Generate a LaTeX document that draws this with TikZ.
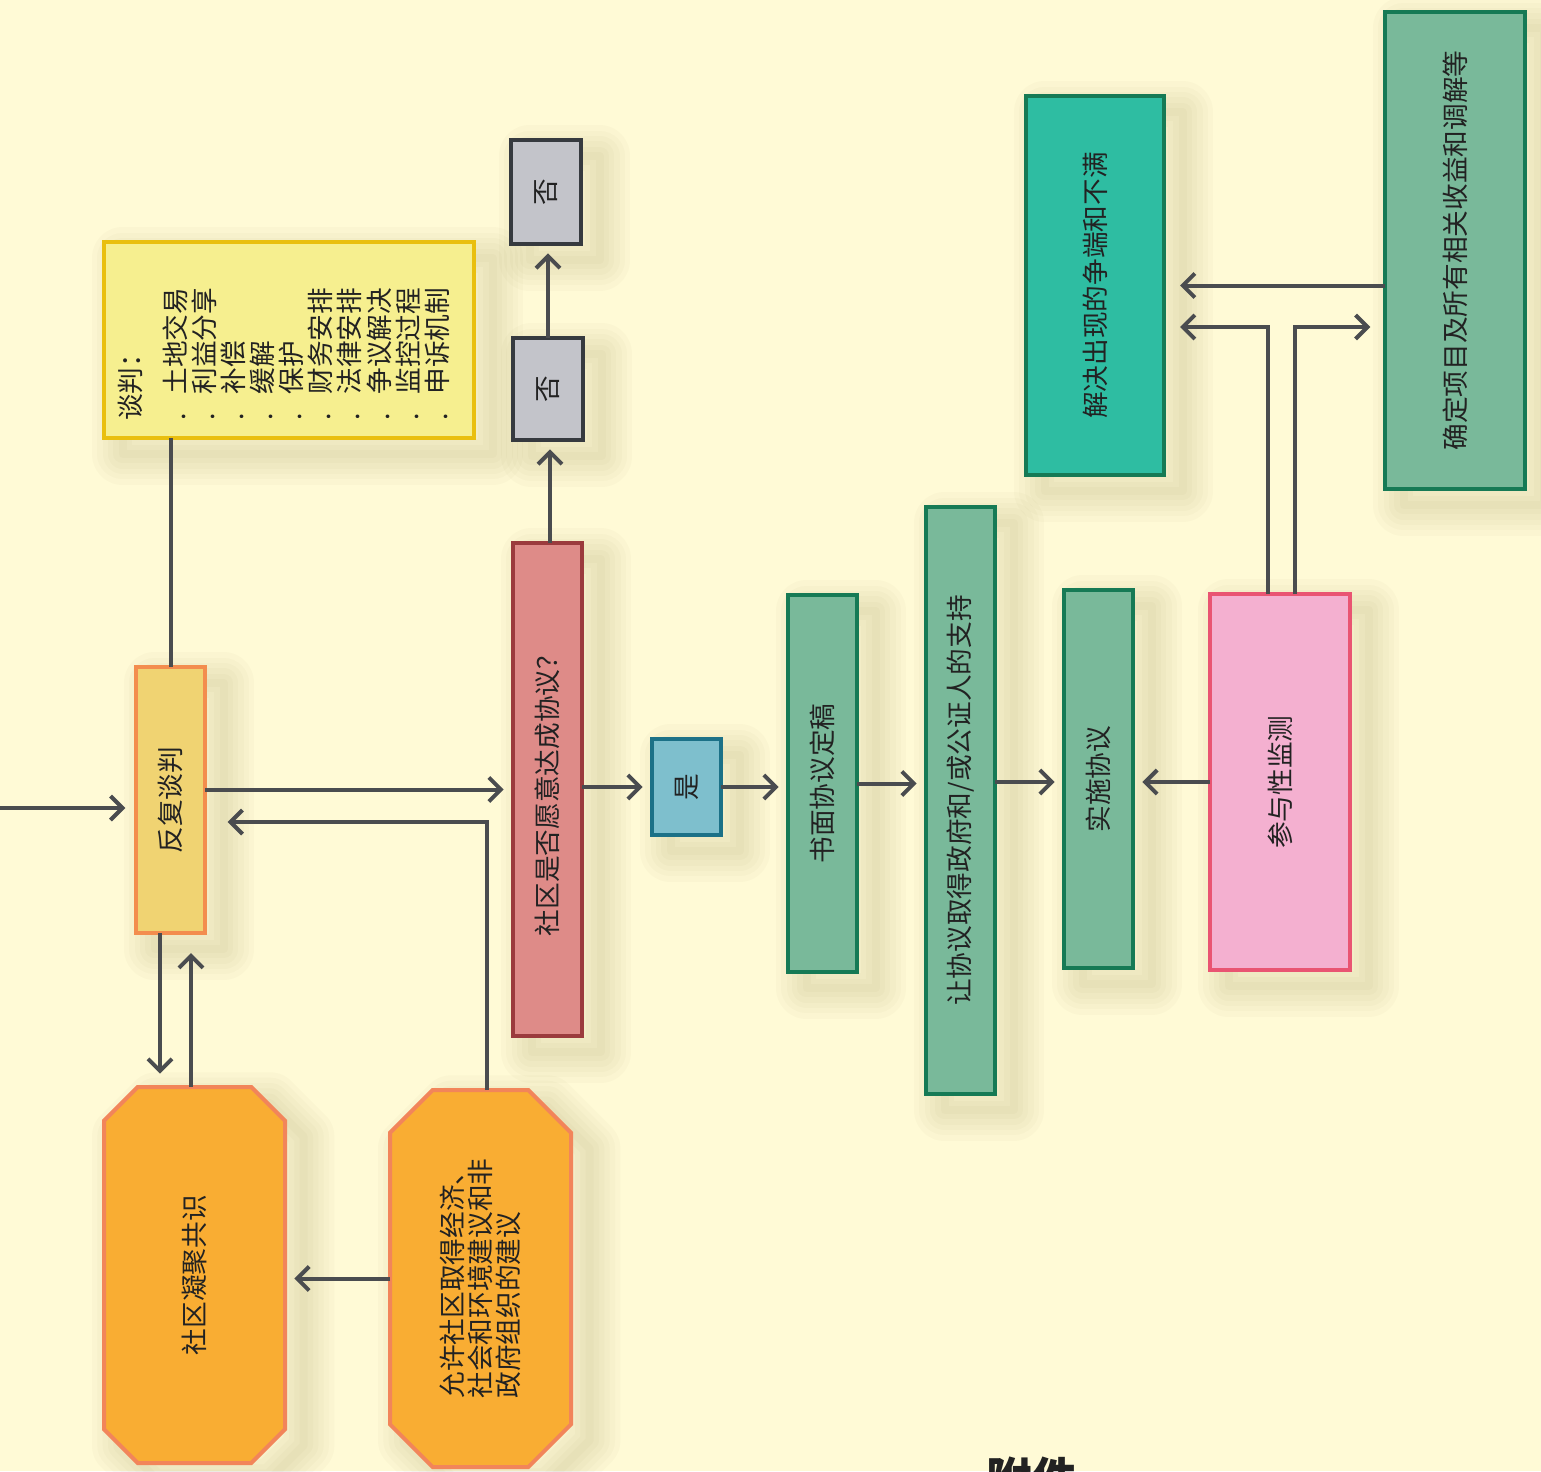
\documentclass[tikz,border=0pt]{standalone}
\usepackage{fontspec}
\setmainfont{Noto Sans CJK SC}
\usepackage{graphicx}
\usetikzlibrary{arrows.meta}
\usetikzlibrary{calc}
\usetikzlibrary{shapes.misc}

\definecolor{bgcream}{RGB}{255,250,214}
\definecolor{inkdark}{RGB}{34,34,34}
\definecolor{arrowgray}{RGB}{74,76,79}
\definecolor{shadowtan}{RGB}{110,100,40}
\definecolor{notefill}{RGB}{246,239,143}
\definecolor{noteline}{RGB}{233,191,15}
\definecolor{talkfill}{RGB}{240,211,114}
\definecolor{talkline}{RGB}{243,141,78}
\definecolor{askfill}{RGB}{222,139,136}
\definecolor{askline}{RGB}{155,59,61}
\definecolor{nofill}{RGB}{195,196,202}
\definecolor{noline}{RGB}{54,58,63}
\definecolor{yesfill}{RGB}{126,191,205}
\definecolor{yesline}{RGB}{28,113,135}
\definecolor{sagefill}{RGB}{121,185,154}
\definecolor{greenline}{RGB}{22,122,85}
\definecolor{tealfill}{RGB}{46,189,162}
\definecolor{pinkfill}{RGB}{244,176,208}
\definecolor{pinkline}{RGB}{233,84,114}
\definecolor{orangefill}{RGB}{249,173,51}
\definecolor{orangeline}{RGB}{242,133,90}

\newcommand{\vtext}[1]{\rotatebox{90}{#1}}
\newcommand{\vlines}[2]{\rotatebox{90}{\vbox{\baselineskip=#1\lineskiplimit=-\maxdimen #2}}}

\tikzset{every picture/.style={line width=0.75pt}}
\tikzset{
  haze/.style={preaction={draw=shadowtan, draw opacity=0.028, line join=round,
    line width=#1, transform canvas={shift={(14pt,-12pt)}}}},
  box/.style={draw, line width=3pt, inner sep=0pt, outer sep=0pt, text=inkdark,
    font=\fontsize{20}{22}\selectfont,
    haze=46pt, haze=38pt, haze=30pt, haze=22pt, haze=14pt, haze=6pt},
  sz/.style 2 args={minimum width=#1*0.75pt, minimum height=#2*0.75pt},
  notebox/.style={box, fill=notefill, draw=noteline},
  talkbox/.style={box, fill=talkfill, draw=talkline},
  askbox/.style={box, fill=askfill, draw=askline},
  nobox/.style={box, fill=nofill, draw=noline},
  yesbox/.style={box, fill=yesfill, draw=yesline},
  sagebox/.style={box, fill=sagefill, draw=greenline},
  tealbox/.style={box, fill=tealfill, draw=greenline},
  pinkbox/.style={box, fill=pinkfill, draw=pinkline},
  octbox/.style={box, chamfered rectangle, chamfered rectangle xsep=16pt,
    chamfered rectangle ysep=16pt, fill=orangefill, draw=orangeline},
  arr/.style={draw=arrowgray, line width=3pt, line join=miter,
    -{Straight Barb[length=9pt,width=18pt]}, shorten >=7pt},
  link/.style={draw=arrowgray, line width=3pt},
}

\begin{document}
\begin{tikzpicture}[x=0.75pt,y=0.75pt,yscale=-1,xscale=1]
      \useasboundingbox (0,0) rectangle (1541,1471);
      \fill [bgcream] (0,0) rectangle (1541,1471);

      \node (note) [notebox, sz={370}{196}] at (289,340) {\vlines{21.8pt}{
            \hbox to 121pt{谈判：\hfil}\vskip 12pt
            \hbox{.\hspace{0.7em}土地交易}\hbox{.\hspace{0.7em}利益分享}\hbox{.\hspace{0.7em}补偿}
            \hbox{.\hspace{0.7em}缓解}\hbox{.\hspace{0.7em}保护}\hbox{.\hspace{0.7em}财务安排}
            \hbox{.\hspace{0.7em}法律安排}\hbox{.\hspace{0.7em}争议解决}\hbox{.\hspace{0.7em}监控过程}
            \hbox{.\hspace{0.7em}申诉机制}\vskip 8pt}};
      \node (fanfu) [talkbox, sz={69}{266}] at (170.5,800) {\vtext{反复谈判}};
      \node (shequ) [askbox, sz={69}{493}] at (547.5,789.5) {\vtext{社区是否愿意达成协议？}};
      \node (fou1) [nobox, sz={70}{102}] at (548,389) {\vtext{否}};
      \node (fou2) [nobox, sz={70}{104}] at (546,192) {\vtext{否}};
      \node (shi) [yesbox, sz={69}{96}] at (686.5,787) {\vtext{是}};
      \node (shumian) [sagebox, sz={69}{377}] at (822.5,783.5) {\vtext{书面协议定稿}};
      \node (rang) [sagebox, sz={69}{587}] at (960.5,800.5) {\vtext{让协议取得政府和/或公证人的支持}};
      \node (shishi) [sagebox, sz={69}{378}] at (1098.5,779) {\vtext{实施协议}};
      \node (jiance) [pinkbox, sz={140}{376}] at (1280,782) {\vtext{参与性监测}};
      \node (jiejue) [tealbox, sz={138}{379}] at (1095,285.5) {\vtext{解决出现的争端和不满}};
      \node (queding) [sagebox, sz={140}{477}] at (1455,250.5) {\vtext{确定项目及所有相关收益和调解等}};
      \node (ningju) [octbox, sz={181}{376}] at (194.5,1275) {\vtext{社区凝聚共识}};
      \node (yunxu) [octbox, sz={181}{377}] at (480.5,1278.5) {\vlines{21pt}{
            \hbox{允许社区取得经济、}\hbox{社会和环境建议和非}\hbox{政府组织的建议}}};
      \node (fujian) [text=inkdark, font=\fontsize{34}{40}\selectfont\bfseries] at (1032,1478) {附件};

      \coordinate (in) at (0,808);
      \coordinate (down) at ($(fanfu.south)+(-10.5,0)$);
      \coordinate (up) at ($(ningju.north)+(-3.5,0)$);
      \coordinate (ask) at ($(shequ.north)+(2.5,0)$);
      \draw [link] (fanfu.north) -- (fanfu.north |- note.south);
      \draw [arr, shorten >=8pt] (in) -- (in -| fanfu.west);
      \draw [arr] (fanfu.east |- shequ.west) -- (shequ.west);
      \draw [arr, shorten >=17pt] ($(yunxu.north)+(6.5,0)$) |- ($(fanfu.east)+(0,22)$);
      \draw [arr, shorten >=10pt] (down) -- (down |- ningju.north);
      \draw [arr, shorten >=15pt] (up) -- (up |- fanfu.south);
      \draw [arr] (yunxu.west) -- (yunxu.west -| ningju.east);
      \draw [arr] (ask) -- (ask |- fou1.south);
      \draw [arr] (fou1.north) -- (fou1.north |- fou2.south);
      \draw [arr] (shequ.east |- shi.west) -- (shi.west);
      \draw [arr] (shi.east) -- (shi.east -| shumian.west);
      \draw [arr] (shumian.east) -- (shumian.east -| rang.west);
      \draw [arr] (rang.east |- jiance.west) -- (shishi.west |- jiance.west);
      \draw [arr] (jiance.west) -- (jiance.west -| shishi.east);
      \draw [arr, shorten >=12pt] (queding.west |- jiejue.east) -- (jiejue.east);
      \draw [arr, shorten >=12pt] ($(jiance.north)+(-12,0)$) |- ($(jiejue.east)+(0,41.5)$);
      \draw [arr, shorten >=11pt] ($(jiance.north)+(15,0)$) |- ($(queding.west)+(0,76.5)$);
\end{tikzpicture}
\end{document}
